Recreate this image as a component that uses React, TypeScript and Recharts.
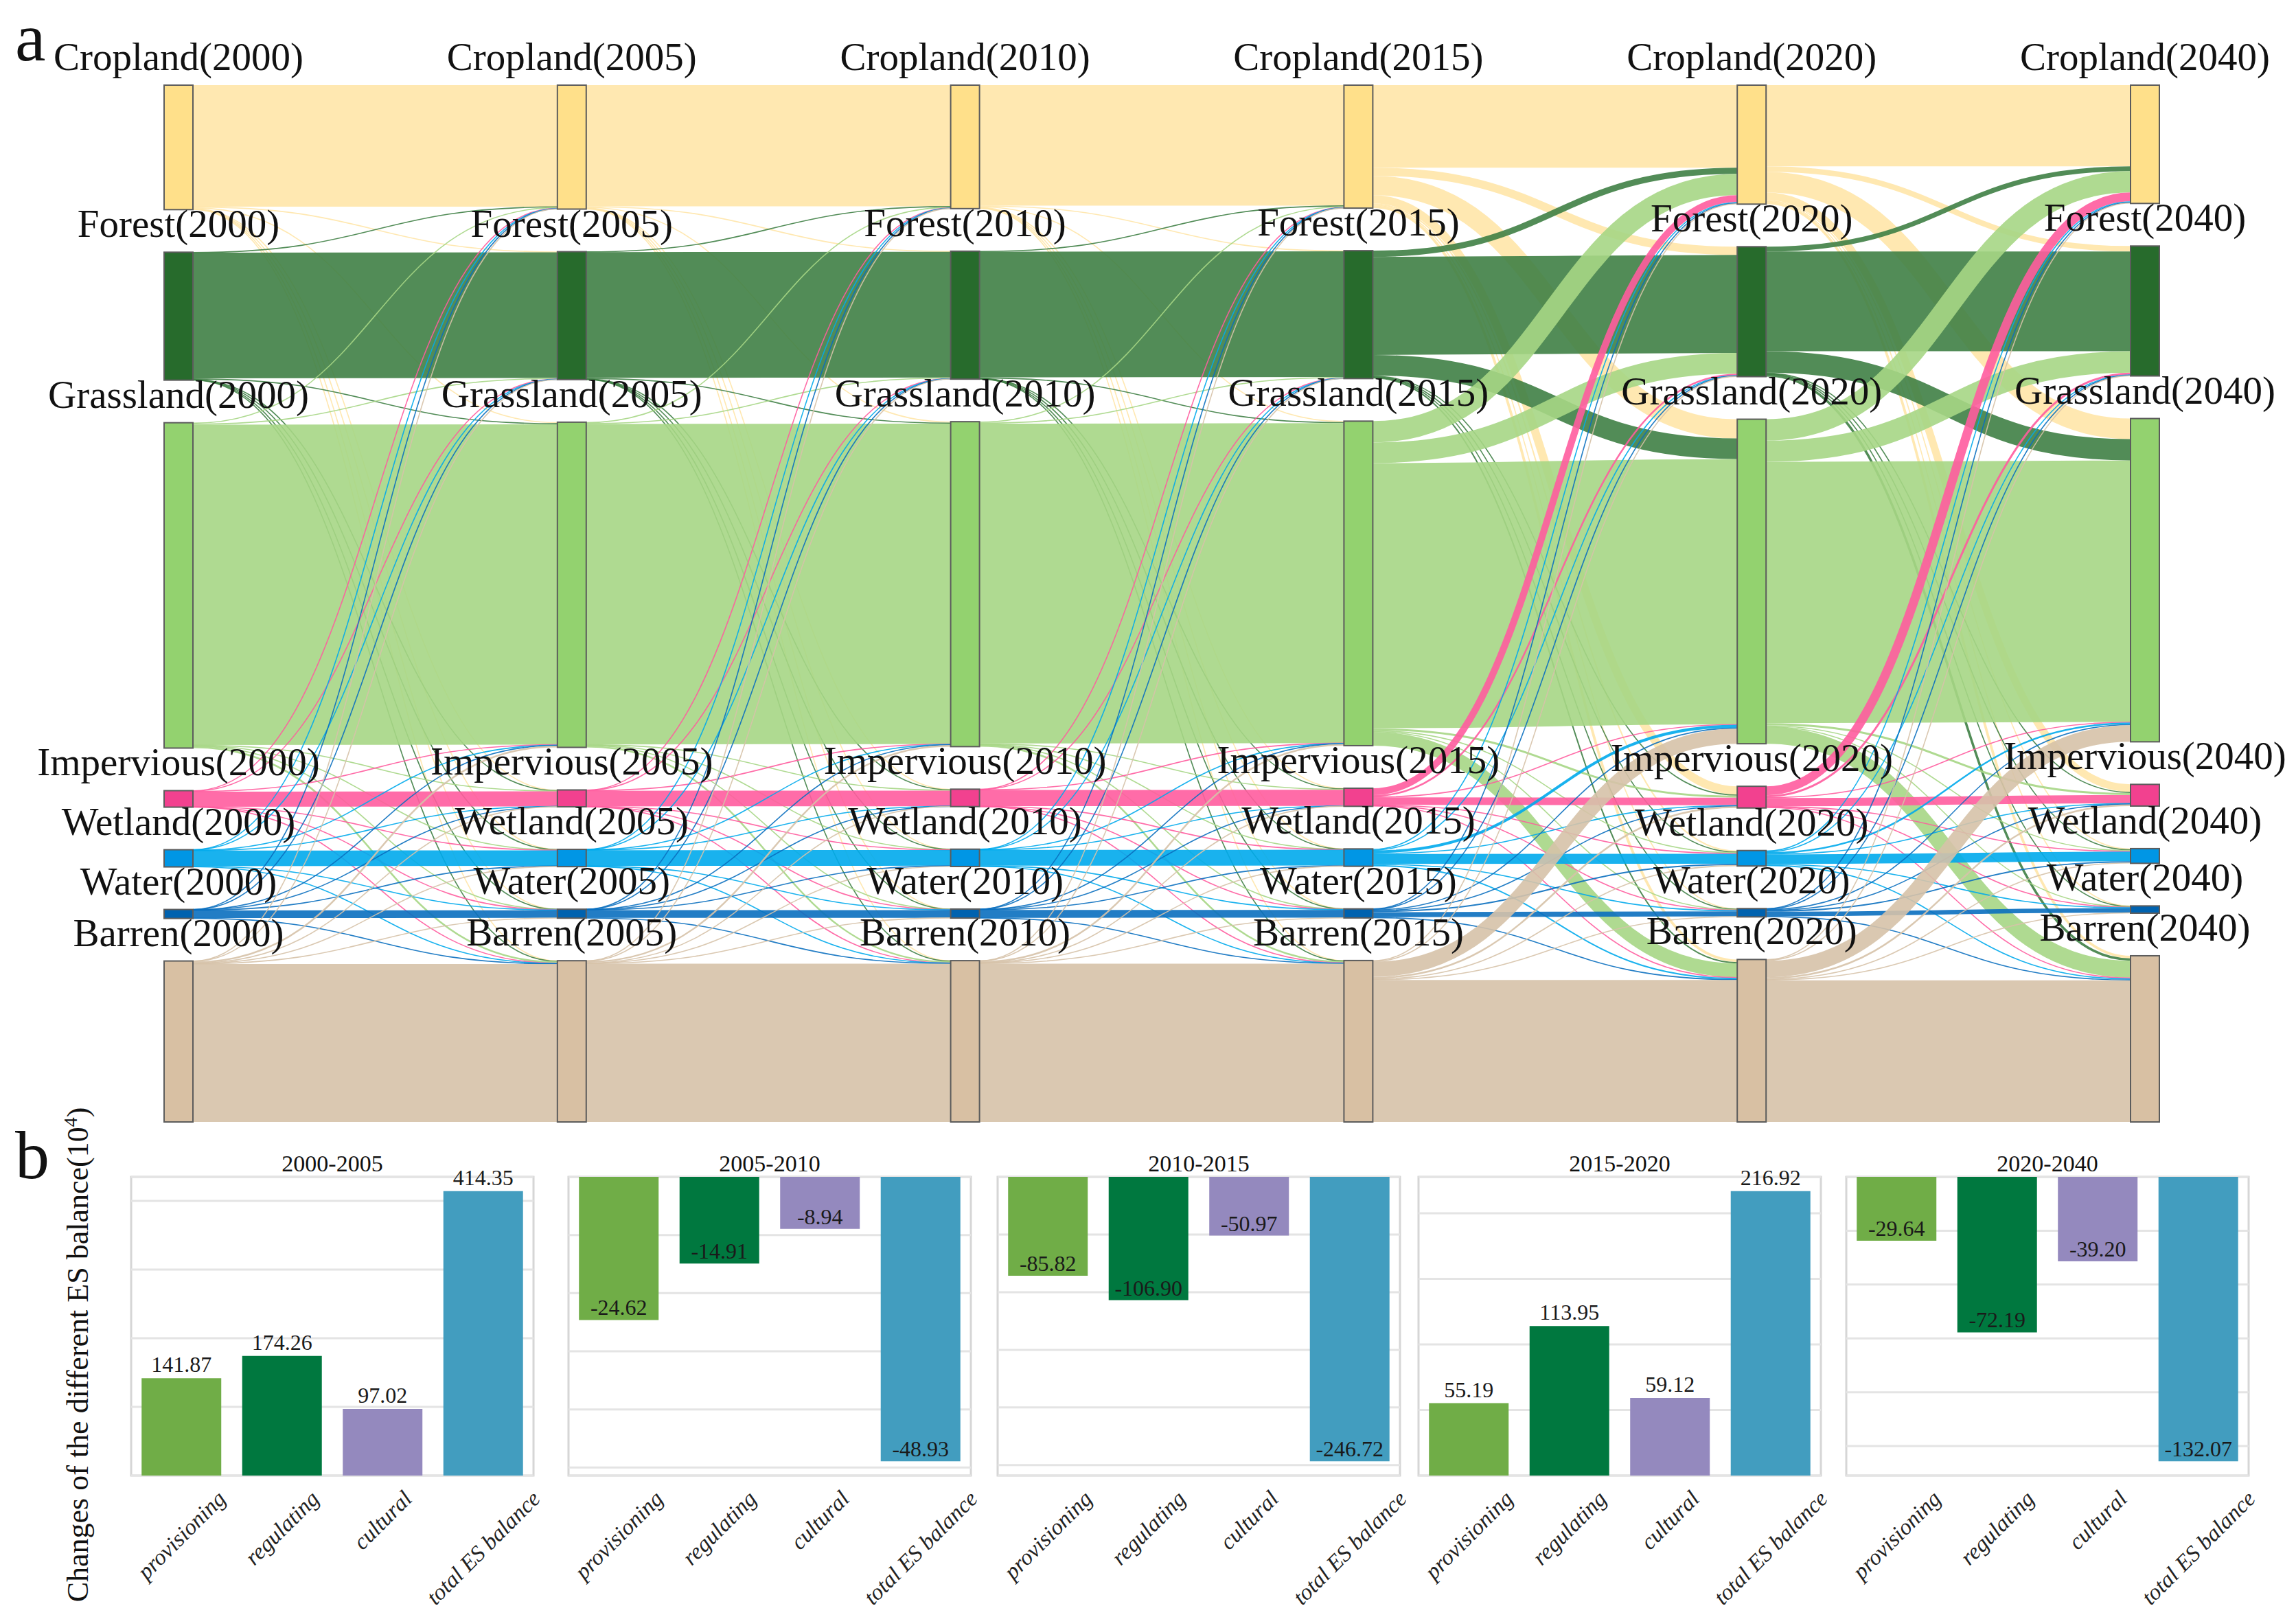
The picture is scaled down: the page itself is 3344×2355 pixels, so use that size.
import React from 'react';
import { Sankey, BarChart, Bar, XAxis, YAxis, CartesianGrid, Cell, LabelList } from 'recharts';

// ---------- panel a: land-use transitions ----------
const categories = ['Cropland', 'Forest', 'Grassland', 'Impervious', 'Wetland', 'Water', 'Barren'];
const years = ['2000', '2005', '2010', '2015', '2020', '2040'];

// rows = from, columns = to (same order as categories)
const flows2000to2005 = [
  [176.6, 1.0, 1.5, 0.8, 0.3, 0.2, 0.6],
  [0.8, 182.6, 1.6, 0.3, 0.2, 0.1, 0.4],
  [1.4, 1.5, 465.6, 0.8, 0.6, 0.5, 2.6],
  [0.5, 0.3, 0.6, 22.0, 0.3, 0.1, 0.2],
  [0.3, 0.2, 0.6, 0.2, 22.6, 0.6, 0.5],
  [0.2, 0.1, 0.4, 0.1, 0.6, 11.1, 0.5],
  [0.4, 0.3, 2.5, 0.3, 0.5, 0.4, 229.6],
];
const flows2005to2010 = [
  [176.2, 0.9, 1.3, 0.8, 0.3, 0.2, 0.5],
  [0.7, 182.8, 1.5, 0.3, 0.2, 0.1, 0.4],
  [1.3, 1.4, 465.8, 0.9, 0.5, 0.5, 2.4],
  [0.4, 0.3, 0.5, 22.7, 0.3, 0.1, 0.2],
  [0.3, 0.2, 0.5, 0.2, 22.8, 0.6, 0.5],
  [0.2, 0.1, 0.4, 0.1, 0.6, 11.2, 0.4],
  [0.4, 0.3, 2.4, 0.3, 0.5, 0.4, 230.1],
];
const flows2010to2015 = [
  [175.2, 1.0, 1.4, 0.9, 0.3, 0.2, 0.5],
  [0.8, 182.6, 1.6, 0.3, 0.2, 0.1, 0.4],
  [1.5, 1.4, 465.0, 1.0, 0.5, 0.5, 2.5],
  [0.4, 0.3, 0.5, 23.5, 0.3, 0.1, 0.2],
  [0.3, 0.2, 0.5, 0.2, 22.9, 0.6, 0.5],
  [0.2, 0.1, 0.4, 0.1, 0.6, 11.3, 0.4],
  [0.4, 0.3, 2.4, 0.3, 0.5, 0.4, 230.2],
];
const flows2015to2020 = [
  [120, 12, 28, 12, 2, 1, 3.8],
  [9, 142.5, 30, 1.5, 0.6, 0.3, 2.0],
  [31, 30, 385.5, 3, 1.5, 0.8, 20],
  [10, 2.5, 0.8, 11, 0.7, 0.3, 1.0],
  [1.5, 0.8, 4, 1.0, 14.5, 1.5, 2.0],
  [0.5, 0.3, 1.5, 0.5, 2.0, 7.4, 1.0],
  [1.0, 0.8, 22, 2.5, 1.2, 0.8, 206.4],
];
const flows2020to2040 = [
  [118, 8, 30, 11, 1.5, 0.8, 3.7],
  [7, 145, 31, 1.5, 0.6, 0.3, 3.5],
  [31, 31, 380, 3, 1.5, 0.8, 24.5],
  [13, 3, 1.0, 12, 0.8, 0.4, 1.3],
  [1.5, 0.8, 2.5, 1.0, 14.0, 1.0, 1.7],
  [0.5, 0.3, 1.5, 0.5, 1.8, 6.5, 1.0],
  [1.0, 0.8, 24, 2.5, 1.2, 0.8, 205.9],
];
const periodFlows = [flows2000to2005, flows2005to2010, flows2010to2015, flows2015to2020, flows2020to2040];

const nodeColors = ['#ffe08a', '#276b2c', '#93d26f', '#f2418f', '#0096e5', '#0062af', '#d8c0a3'];
const linkColors = ['#ffe6a8', '#3f7f45', '#a6d685', '#ff5c9e', '#00aaec', '#0a6fbf', '#d6c2a9'];

// ---------- panel b: ES balance changes ----------
const periods = ['2000-2005', '2005-2010', '2010-2015', '2015-2020', '2020-2040'];
const serviceNames = ['provisioning', 'regulating', 'cultural', 'total ES balance'];
const provisioning = [141.87, -24.62, -85.82, 55.19, -29.64];
const regulating = [174.26, -14.91, -106.9, 113.95, -72.19];
const cultural = [97.02, -8.94, -50.97, 59.12, -39.2];
const totalBalance = [414.35, -48.93, -246.72, 216.92, -132.07];
const serviceColors = ['#70ad47', '#00783f', '#9489be', '#429dbf'];
const panelTicks = [
  [100, 200, 300, 400],
  [-10, -20, -30, -40, -50],
  [-50, -100, -150, -200, -250],
  [50, 100, 150, 200],
  [-25, -50, -75, -100, -125],
];

const serif = '"Liberation Serif", "Times New Roman", serif';
const panelLefts = [191, 828, 1453, 2066, 2689];
const panelWidth = 586;
const panelTop = 1714;
const panelHeight = 435;
const chartTopPad = 60;

const sankeyNodes = years.flatMap((y) => categories.map((c, ci) => ({ name: `${c}(${y})`, cat: ci })));
const sankeyLinks = periodFlows.flatMap((m, p) =>
  m.flatMap((row, i) =>
    row.map((v, j) => ({ source: p * 7 + i, target: (p + 1) * 7 + j, value: v, cat: i }))
  )
).filter((l) => l.value > 0);

function SankeyNode(props: any) {
  const { x, y, width, height, payload } = props;
  return (
    <g>
      <rect x={x} y={y} width={width} height={height} fill={nodeColors[payload.cat]} stroke="#5c5c5c" strokeWidth={2} />
      <text x={x + width / 2} y={y - 22} textAnchor="middle" fontFamily={serif} fontSize={57} fill="#111">
        {payload.name}
      </text>
    </g>
  );
}

function SankeyLink(props: any) {
  const { sourceX, targetX, sourceY, targetY, sourceControlX, targetControlX, linkWidth, payload } = props;
  return (
    <path
      d={`M${sourceX},${sourceY}C${sourceControlX},${sourceY} ${targetControlX},${targetY} ${targetX},${targetY}`}
      fill="none"
      stroke={linkColors[payload.cat]}
      strokeWidth={Math.max(linkWidth, 1.6)}
      strokeOpacity={0.9}
    />
  );
}

let measureCtx: any = null;
function textWidth(t: string) {
  if (!measureCtx) measureCtx = document.createElement('canvas').getContext('2d');
  if (!measureCtx) return t.length * 13.5;
  measureCtx.font = 'italic 33px "Liberation Serif"';
  return measureCtx.measureText(t).width;
}

function ServiceTick(props: any) {
  const { x, y, payload } = props;
  const len = textWidth(payload.value);
  const cy = y + 20 + len * 0.354;
  return (
    <text
      x={x}
      y={cy}
      textAnchor="middle"
      dominantBaseline="central"
      transform={`rotate(-45, ${x}, ${cy})`}
      fontStyle="italic"
      fontFamily={serif}
      fontSize={33}
      fill="#222"
    >
      {payload.value}
    </text>
  );
}

const renderValueLabel = (props: any) => {
  const vb = props.viewBox || {};
  const x = props.x ?? vb.x;
  const y = props.y ?? vb.y;
  const width = props.width ?? vb.width;
  const height = props.height ?? vb.height;
  const value = Number(props.value);
  const top = Math.min(y, y + height);
  const bottom = Math.max(y, y + height);
  const ty = value >= 0 ? top - 9 : bottom - 7;
  return (
    <text x={x + width / 2} y={ty} textAnchor="middle" fontFamily={serif} fontSize={32} fill="#1a1a1a">
      {value.toFixed(2)}
    </text>
  );
};

function BalancePanel({ index }: { index: number }) {
  const series = [provisioning, regulating, cultural, totalBalance];
  const data = serviceNames.map((name, k) => ({ name, value: series[k][index] }));
  const vals = data.map((d) => d.value);
  const lo = Math.min(0, ...vals);
  const hi = Math.max(0, ...vals);
  return (
    <BarChart
      width={panelWidth + 40}
      height={panelHeight + chartTopPad + 220}
      data={data}
      margin={{ top: chartTopPad, right: 20, bottom: 20, left: 20 }}
      barCategoryGap="10.4%"
    >
      <CartesianGrid vertical={false} stroke="#e4e4e4" strokeWidth={3} />
      <XAxis dataKey="name" interval={0} tick={<ServiceTick />} axisLine={false} tickLine={false} height={200} />
      <YAxis hide type="number" domain={[lo * 1.05, hi * 1.05]} ticks={panelTicks[index]} />
      <Bar dataKey="value" isAnimationActive={false}>
        {data.map((d, k) => (
          <Cell key={d.name} fill={serviceColors[k]} />
        ))}
        <LabelList dataKey="value" content={renderValueLabel} />
      </Bar>
    </BarChart>
  );
}

export default function App() {
  return (
    <div style={{ position: 'absolute', left: 0, top: 0, width: 3344, height: 2355, background: '#fff', overflow: 'hidden' }}>
      <div style={{ position: 'absolute', left: 0, top: 0 }}>
        <Sankey
          width={3344}
          height={1680}
          data={{ nodes: sankeyNodes, links: sankeyLinks }}
          nodeWidth={42}
          nodePadding={62}
          iterations={0}
          sort={false}
          margin={{ top: 124, right: 199, bottom: 46, left: 239 }}
          node={<SankeyNode />}
          link={<SankeyLink />}
        />
      </div>
      <svg width={3344} height={2355} style={{ position: 'absolute', left: 0, top: 0, pointerEvents: 'none' }}>
        <text x={22} y={88} fontFamily={serif} fontSize={100} fill="#111">a</text>
        <text x={22} y={1716} fontFamily={serif} fontSize={100} fill="#111">b</text>
        <text
          x={128}
          y={1973}
          transform="rotate(-90, 128, 1973)"
          textAnchor="middle"
          fontFamily={serif}
          fontSize={44}
          fill="#111"
        >
          Changes of the different ES balance(10<tspan dy={-16} fontSize={28}>4</tspan><tspan dy={16}>)</tspan>
        </text>
        {periods.map((p, i) => (
          <g key={p}>
            <text x={panelLefts[i] + panelWidth / 2} y={panelTop - 8} textAnchor="middle" fontFamily={serif} fontSize={34} fill="#111">
              {p}
            </text>
            <rect x={panelLefts[i]} y={panelTop} width={panelWidth} height={panelHeight} fill="none" stroke="#d6d6d6" strokeWidth={3} />
          </g>
        ))}
      </svg>
      {periods.map((p, i) => (
        <div key={p} style={{ position: 'absolute', left: panelLefts[i] - 20, top: panelTop - chartTopPad }}>
          <BalancePanel index={i} />
        </div>
      ))}
    </div>
  );
}
